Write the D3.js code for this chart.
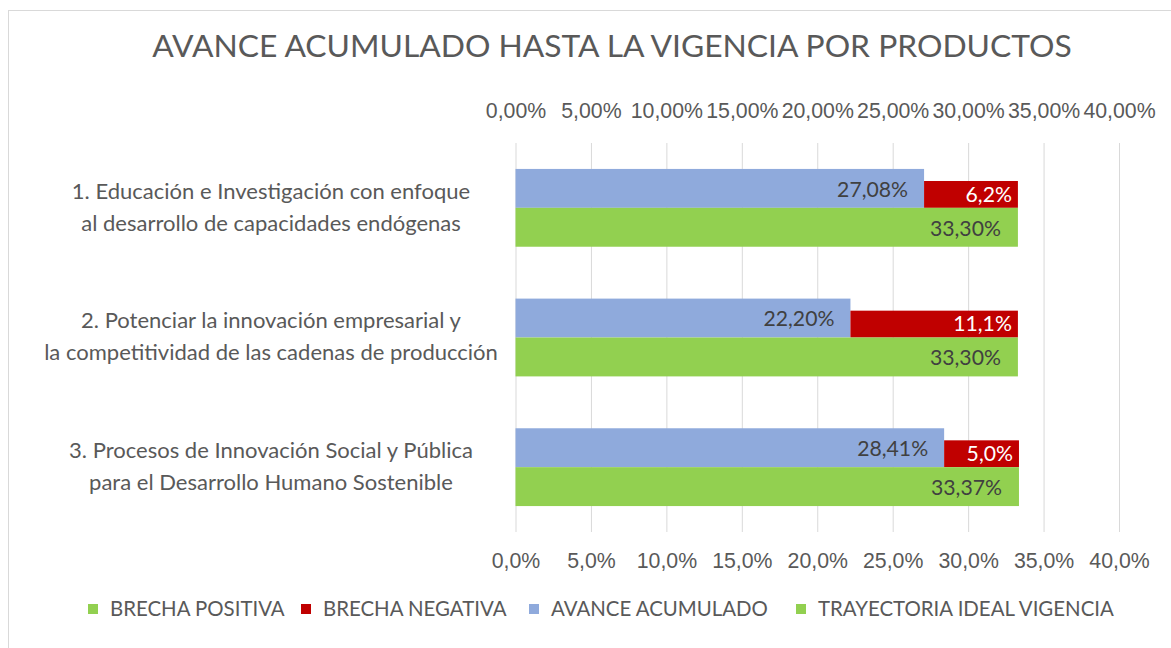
<!DOCTYPE html>
<html>
<head>
<meta charset="utf-8">
<script src="https://cdn.jsdelivr.net/npm/d3@7"></script>
<style>
  body { margin: 0; background: #fff; }
  svg { display: block; font-family: Lato, "Open Sans", sans-serif; }
</style>
</head>
<body>
<svg id="chart" width="1171" height="648"></svg>
<script>
// data
const title = "AVANCE ACUMULADO HASTA LA VIGENCIA POR PRODUCTOS";
const categoryLines = [
    ["1. Educación e Investigación con enfoque", "al desarrollo de capacidades endógenas"],
    ["2. Potenciar la innovación empresarial y", "la competitividad de las cadenas de producción"],
    ["3. Procesos de Innovación Social y Pública", "para el Desarrollo Humano Sostenible"]
];
const avanceAcumulado = [27.08, 22.20, 28.41];
const brechaNegativa = [6.22, 11.10, 4.96];
const brechaPositiva = [0, 0, 0];
const trayectoriaIdeal = [33.30, 33.30, 33.37];
const tickValues = [0, 5, 10, 15, 20, 25, 30, 35, 40];
const legendNames = ["BRECHA POSITIVA", "BRECHA NEGATIVA", "AVANCE ACUMULADO", "TRAYECTORIA IDEAL VIGENCIA"];
const legendColors = ["#92D050", "#C00000", "#8FAADC", "#92D050"];

const svg = d3.select("#chart");
const plot = {left: 515.5, right: 1119, top: 143, bottom: 532};

const comma = f => v => f(v).replace(".", ",") + "%";
const fmt2 = comma(d3.format(".2f"));
const fmt1 = comma(d3.format(".1f"));

const x = d3.scaleLinear().domain([0, 40]).range([plot.left, plot.right]);
const y = d3.scaleBand().domain(d3.range(categoryLines.length))
    .range([plot.top, plot.bottom]).paddingInner(0.4).paddingOuter(0.2);
const ySub = d3.scaleBand().domain(["avance", "trayectoria"]).range([0, y.bandwidth()]);

// scale font size of a text so it spans a target width
function fit(sel, target) {
    const w = sel.node().getComputedTextLength();
    const fs = parseFloat(sel.attr("font-size"));
    return fs * target / w;
}

// chart border (only top and left edges fall inside the picture)
svg.append("rect")
    .attr("x", 8.5).attr("y", 10.5)
    .attr("width", 1300).attr("height", 800)
    .attr("fill", "none").attr("stroke", "#D9D9D9");

// title
const t = svg.append("text")
    .attr("x", 612).attr("y", 57)
    .attr("text-anchor", "middle")
    .attr("fill", "#595959")
    .attr("font-size", 30)
    .text(title);
t.attr("font-size", fit(t, 920));

// gridlines
svg.append("g")
    .attr("transform", `translate(0,${plot.bottom})`)
    .call(d3.axisBottom(x).tickValues(tickValues).tickSize(-(plot.bottom - plot.top)).tickFormat(""))
    .call(g => g.select(".domain").remove())
    .call(g => g.selectAll("line").attr("stroke", "#D9D9D9").attr("stroke-width", 1));

// axis label font
const probe = svg.append("text").attr("font-size", 20).text("0,00%");
const axisFs = fit(probe, 59);
probe.remove();

// top axis
svg.append("g")
    .attr("transform", `translate(0,118)`)
    .call(d3.axisTop(x).tickValues(tickValues).tickFormat(fmt2).tickSize(0).tickPadding(0))
    .call(g => g.select(".domain").remove())
    .call(g => g.selectAll("text")
        .attr("font-family", null).attr("font-size", axisFs)
        .attr("fill", "#595959").attr("y", 0).attr("dy", 0));

// bottom axis
svg.append("g")
    .attr("transform", `translate(0,568)`)
    .call(d3.axisBottom(x).tickValues(tickValues).tickFormat(fmt1).tickSize(0).tickPadding(0))
    .call(g => g.select(".domain").remove())
    .call(g => g.selectAll("text")
        .attr("font-family", null).attr("font-size", axisFs)
        .attr("fill", "#595959").attr("y", 0).attr("dy", 0));

// bars
const groups = svg.append("g").selectAll("g")
    .data(d3.range(categoryLines.length))
    .join("g")
    .attr("transform", i => `translate(0,${y(i)})`);

groups.append("rect")
    .attr("x", x(0))
    .attr("y", ySub("avance"))
    .attr("width", i => x(avanceAcumulado[i]) - x(0))
    .attr("height", ySub.bandwidth())
    .attr("fill", "#8FAADC");

groups.append("rect")
    .attr("x", i => x(avanceAcumulado[i]))
    .attr("y", ySub("avance") + ySub.bandwidth() * 0.31)
    .attr("width", i => x(avanceAcumulado[i] + brechaNegativa[i]) - x(avanceAcumulado[i]))
    .attr("height", ySub.bandwidth() * 0.69)
    .attr("fill", "#C00000");

groups.append("rect")
    .attr("x", x(0))
    .attr("y", ySub("trayectoria"))
    .attr("width", i => x(trayectoriaIdeal[i]) - x(0))
    .attr("height", ySub.bandwidth())
    .attr("fill", "#92D050");

// data labels
const lp = svg.append("text").attr("font-size", 20).text("27,08%");
const labelFs = fit(lp, 71);
lp.remove();

groups.append("text")
    .attr("x", i => x(avanceAcumulado[i]) - 16)
    .attr("y", ySub("avance") + ySub.bandwidth() / 2 + 1)
    .attr("dy", "0.35em")
    .attr("text-anchor", "end")
    .attr("font-size", labelFs)
    .attr("fill", "#404040")
    .text(i => fmt2(avanceAcumulado[i]));

groups.append("text")
    .attr("x", i => x(avanceAcumulado[i] + brechaNegativa[i]) - 6)
    .attr("y", ySub("avance") + ySub.bandwidth() * 0.655)
    .attr("dy", "0.35em")
    .attr("text-anchor", "end")
    .attr("font-size", labelFs)
    .attr("fill", "#FFFFFF")
    .text(i => fmt1(brechaNegativa[i]));

groups.append("text")
    .attr("x", i => x(trayectoriaIdeal[i]) - 17)
    .attr("y", ySub("trayectoria") + ySub.bandwidth() / 2 + 1)
    .attr("dy", "0.35em")
    .attr("text-anchor", "end")
    .attr("font-size", labelFs)
    .attr("fill", "#404040")
    .text(i => fmt2(trayectoriaIdeal[i]));

// category labels
const cp = svg.append("text").attr("font-size", 20).text(categoryLines[1][1]);
const catFs = fit(cp, 454);
cp.remove();

groups.each(function(i) {
    const c = y.bandwidth() / 2;
    d3.select(this).selectAll(".cat")
        .data(categoryLines[i])
        .join("text")
        .attr("class", "cat")
        .attr("x", 271)
        .attr("y", (d, j) => c + (j === 0 ? -9 : 23))
        .attr("text-anchor", "middle")
        .attr("font-size", catFs)
        .attr("fill", "#595959")
        .text(d => d);
});

// legend
const lg = svg.append("text").attr("font-size", 20).text(legendNames[3]);
const legFs = fit(lg, 296);
lg.remove();

const legend = svg.append("g").attr("transform", "translate(0,609)");
const itemX = [88, 301, 529, 796];
const items = legend.selectAll("g")
    .data(legendNames)
    .join("g")
    .attr("transform", (d, i) => `translate(${itemX[i]},0)`);
items.append("rect")
    .attr("x", 0).attr("y", -5)
    .attr("width", 10).attr("height", 10)
    .attr("fill", (d, i) => legendColors[i]);
items.append("text")
    .attr("x", 22)
    .attr("dy", "0.35em")
    .attr("font-size", legFs)
    .attr("fill", "#595959")
    .text(d => d);
</script>
</body>
</html>
